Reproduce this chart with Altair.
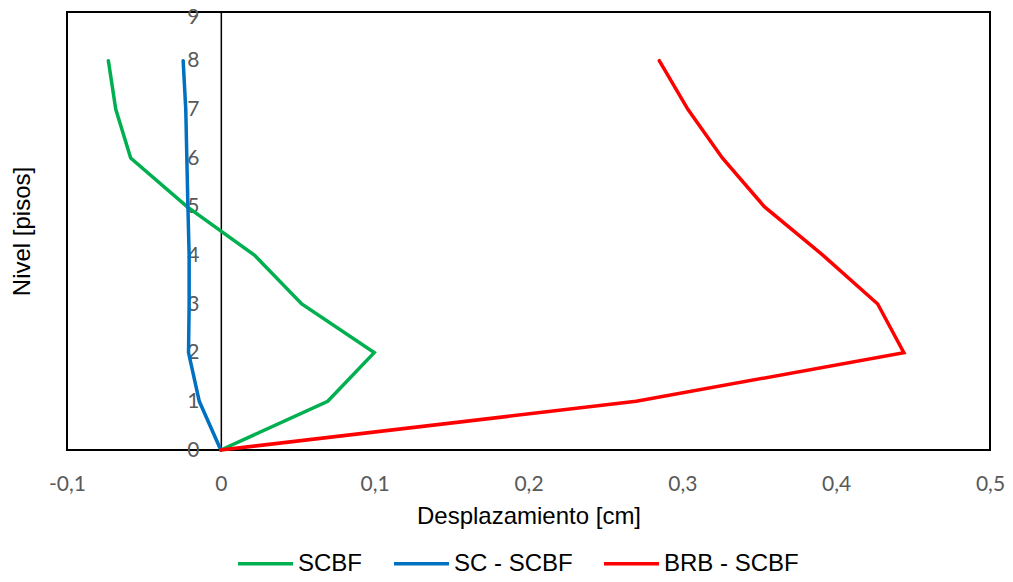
import altair as alt
import pandas as pd

levels = [0, 1, 2, 3, 4, 5, 6, 7, 8]
scbf = [0, 0.0695, 0.0997, 0.0526, 0.0220, -0.0220, -0.0586, -0.0683, -0.0731]
sc_scbf = [0, -0.0140, -0.0210, -0.0206, -0.0206, -0.0214, -0.0221, -0.0228, -0.0245]
brb_scbf = [0, 0.270, 0.444, 0.427, 0.3915, 0.3533, 0.326, 0.3036, 0.285]

series_names = ["SCBF", "SC - SCBF", "BRB - SCBF"]
series_colors = ["#00B050", "#0070C0", "#FF0000"]
x_ticks = [-0.1, 0, 0.1, 0.2, 0.3, 0.4, 0.5]
y_ticks = [0, 1, 2, 3, 4, 5, 6, 7, 8, 9]

rows = []
for name, vals in zip(series_names, [scbf, sc_scbf, brb_scbf]):
    for lv, v in zip(levels, vals):
        rows.append({"serie": name, "nivel": lv, "desp": v})
df = pd.DataFrame(rows)

W, H = 923, 438
zero_px = W * (0 - (-0.1)) / 0.6

chart = alt.Chart(df).mark_line(strokeWidth=3.5, strokeCap="round", strokeJoin="miter").encode(
    x=alt.X("desp:Q", scale=alt.Scale(domain=[-0.1, 0.5], nice=False, zero=False),
            axis=alt.Axis(values=x_ticks, title="Desplazamiento [cm]", grid=False, domain=False,
                          ticks=False, labelFlush=False,
                          labelExpr="replace(replace(format(datum.value, '~g'), '.', ','), '\u2212', '-')",
                          labelFont="Lato", labelFontSize=21, labelColor="#595959",
                          labelPadding=23, titleFont="Liberation Sans", titleFontSize=24,
                          titleFontWeight="normal", titleColor="#000000", titlePadding=10)),
    y=alt.Y("nivel:Q", scale=alt.Scale(domain=[0, 9], nice=False),
            axis=alt.Axis(values=y_ticks, title="Nivel [pisos]", grid=False, domain=True,
                          domainColor="#000000", domainWidth=1.5, ticks=False,
                          offset=-zero_px, labelFont="Lato", labelFontSize=21,
                          labelColor="#595959", labelPadding=22, labelFlush=False,
                          labelOffset={"condition": {"test": "datum.value == 9", "value": 5}, "value": 0},
                          titleFont="Liberation Sans", titleFontSize=24, titleFontWeight="normal",
                          titleColor="#000000", titleX=-(zero_px + 45), titleY=H / 2,
                          titleBaseline="middle", titleAngle=-90)),
    color=alt.Color("serie:N", scale=alt.Scale(domain=series_names, range=series_colors),
                    legend=alt.Legend(title=None, orient="none", direction="horizontal",
                                      legendX=169, legendY=522, symbolType="stroke",
                                      symbolSize=3025, symbolStrokeWidth=3.5,
                                      labelFont="Liberation Sans", labelFontSize=24,
                                      labelColor="#000000", labelOffset=3, columnPadding=24)),
    order=alt.Order("nivel:Q"),
).properties(
    width=W, height=H,
    autosize=alt.AutoSizeParams(type="none"),
    padding={"left": 59, "top": 4, "right": 15, "bottom": 124},
).configure_view(stroke="#000000", strokeWidth=2)

chart.save("out.html", embed_options={"renderer": "svg", "actions": False})
